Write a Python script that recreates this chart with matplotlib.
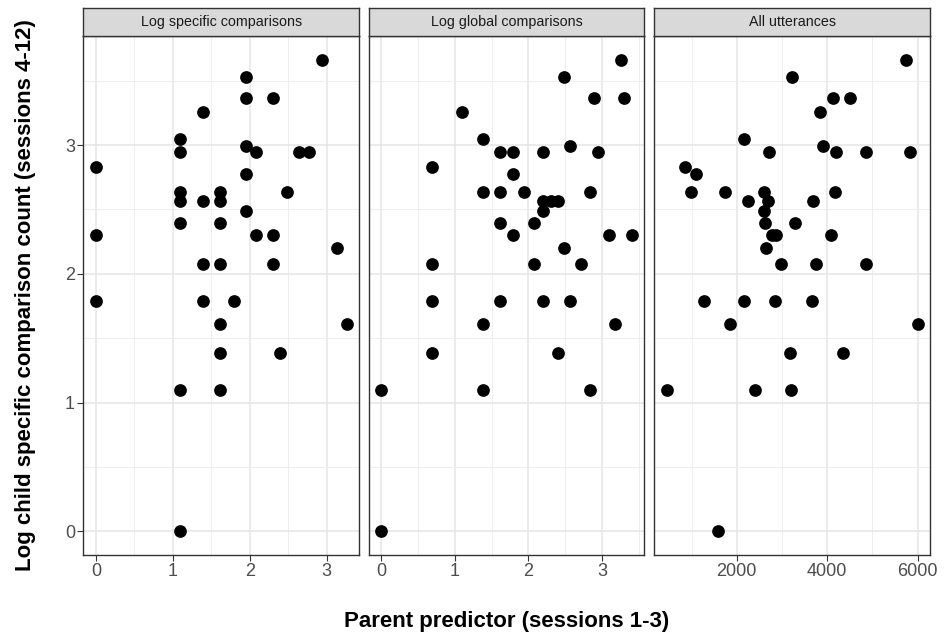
import numpy as np
import matplotlib
matplotlib.use("Agg")
import matplotlib.pyplot as plt
from matplotlib.ticker import MultipleLocator

plt.rcParams['font.family'] = ['Liberation Sans', 'DejaVu Sans']

# counts (axes show log of these counts)
spec_parent = [19, 7, 7, 10, 4, 3, 3, 7, 8, 14, 16, 1, 7, 3, 3, 4, 5, 5, 12, 7,
               3, 5, 1, 8, 10, 23, 4, 5, 10, 1, 4, 6, 5, 26, 5, 11, 3, 5, 3]
spec_child = [39, 34, 29, 29, 26, 21, 19, 20, 19, 19, 19, 17, 16, 14, 13, 13, 14, 13, 14, 12,
              11, 11, 10, 10, 10, 9, 8, 8, 8, 6, 6, 6, 5, 5, 4, 4, 3, 3, 1]

glob_parent = [26, 12, 18, 27, 3, 4, 5, 6, 9, 13, 19, 2, 6, 4, 5, 7, 17, 9, 10, 11, 9,
               5, 8, 6, 22, 30, 12, 2, 8, 15, 2, 5, 9, 13, 4, 24, 2, 11, 1, 4, 17, 1]
glob_child = [39, 34, 29, 29, 26, 21, 19, 19, 19, 20, 19, 17, 16, 14, 14, 14, 14, 13, 13, 13, 12,
              11, 11, 10, 10, 10, 9, 8, 8, 8, 6, 6, 6, 6, 5, 5, 4, 4, 3, 3, 3, 1]

utter_parent = [5749, 3230, 4129, 4512, 3842, 2155, 3908, 2707, 4202, 4865, 5838, 851, 1109, 991,
                1742, 2597, 4173, 2250, 2692, 3694, 2597, 2626, 3289, 2773, 2862, 4085, 2648,
                2987, 3746, 4851, 1271, 2169, 2840, 3657, 1853, 6000, 3179, 4342, 453, 2405,
                3208, 1595]
utter_child = [39, 34, 29, 29, 26, 21, 20, 19, 19, 19, 19, 17, 16, 14, 14, 14, 14, 13, 13, 13,
               12, 11, 11, 10, 10, 10, 9, 8, 8, 8, 6, 6, 6, 6, 5, 5, 4, 4, 3, 3, 3, 1]

titles = ["Log specific comparisons", "Log global comparisons", "All utterances"]
xs = [np.log(spec_parent), np.log(glob_parent), np.array(utter_parent, dtype=float)]
ys = [np.log(spec_child), np.log(glob_child), np.log(utter_child)]
steps = [1, 1, 2000]

fig = plt.figure(figsize=(9.51, 6.34), dpi=100)
lefts = [0.0876, 0.3875, 0.688]
w = 0.290
bottom, h = 0.1246, 0.8186
strip_h = 0.0437

ymin = min(v.min() for v in ys)
ymax = max(v.max() for v in ys)
ypad = (ymax - ymin) * 0.05

for i in range(3):
    ax = fig.add_axes([lefts[i], bottom, w, h])
    ax.scatter(xs[i], ys[i], s=84, color='black', linewidths=0, zorder=3)
    xpad = (xs[i].max() - xs[i].min()) * 0.05
    ax.set_xlim(xs[i].min() - xpad, xs[i].max() + xpad)
    ax.set_ylim(ymin - ypad, ymax + ypad)
    ax.xaxis.set_major_locator(MultipleLocator(steps[i]))
    ax.xaxis.set_minor_locator(MultipleLocator(steps[i] / 2))
    ax.yaxis.set_major_locator(MultipleLocator(1))
    ax.yaxis.set_minor_locator(MultipleLocator(0.5))
    ax.set_axisbelow(True)
    ax.grid(which='major', color='#E6E6E6', lw=1.1)
    ax.grid(which='minor', color='#EBEBEB', lw=0.6)
    for s in ax.spines.values():
        s.set_color('#333333')
        s.set_linewidth(1.0)
    ax.tick_params(which='minor', length=0)
    ax.tick_params(which='major', length=4, width=0.8, color='#333333',
                   labelsize=13, labelcolor='#4D4D4D', pad=2)
    if i > 0:
        ax.tick_params(axis='y', left=False, labelleft=False)

    # facet strip
    st = fig.add_axes([lefts[i], bottom + h, w, strip_h])
    st.set_facecolor('#D9D9D9')
    st.set_xticks([])
    st.set_yticks([])
    for s in st.spines.values():
        s.set_color('#333333')
        s.set_linewidth(1.0)
    st.text(0.5, 0.5, titles[i], ha='center', va='center', fontsize=10.3,
            color='#1A1A1A', transform=st.transAxes)

fig.text(0.5326, 0.02, "Parent predictor (sessions 1-3)", ha='center', va='center',
         fontsize=16, fontweight='bold')
fig.text(0.027, 0.534, "Log child specific comparison count (sessions 4-12)", ha='center',
         va='center', rotation=90, fontsize=16, fontweight='bold')

fig.savefig("out.png", dpi=100)
